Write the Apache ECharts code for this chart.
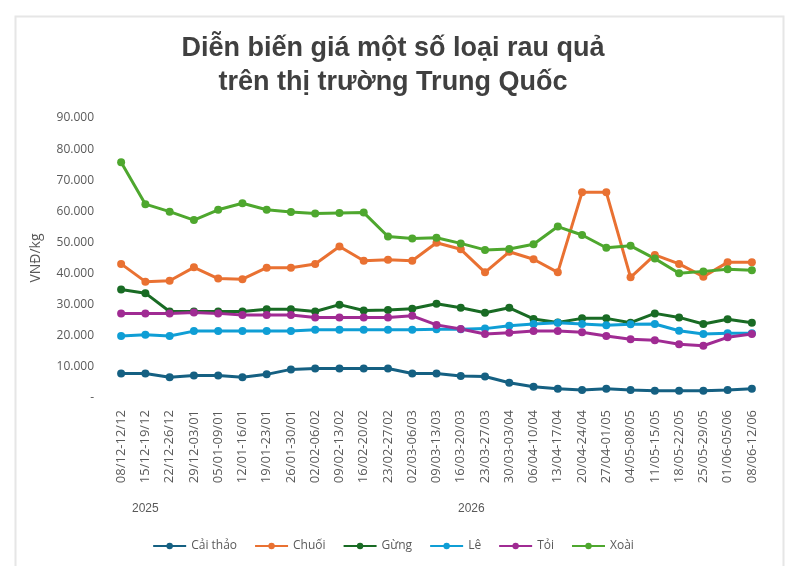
<!DOCTYPE html>
<html>
<head>
<meta charset="utf-8">
<script src="https://cdn.jsdelivr.net/npm/echarts@6/dist/echarts.min.js"></script>
<style>
  html, body { margin: 0; padding: 0; background: #fff; }
  #chart { width: 786px; height: 566px; }
</style>
</head>
<body>
<div id="chart"></div>
<script>
// tuần (categories)
const weeks = [
  '08/12-12/12', '15/12-19/12', '22/12-26/12', '29/12-03/01', '05/01-09/01',
  '12/01-16/01', '19/01-23/01', '26/01-30/01', '02/02-06/02', '09/02-13/02',
  '16/02-20/02', '23/02-27/02', '02/03-06/03', '09/03-13/03', '16/03-20/03',
  '23/03-27/03', '30/03-03/04', '06/04-10/04', '13/04-17/04', '20/04-24/04',
  '27/04-01/05', '04/05-08/05', '11/05-15/05', '18/05-22/05', '25/05-29/05',
  '01/06-05/06', '08/06-12/06'
];

const caiThao = [7900, 7900, 6700, 7200, 7200, 6700, 7600, 9200, 9500, 9500, 9500, 9500, 7900, 7900,
  7100, 6900, 4900, 3600, 3000, 2600, 3000, 2600, 2300, 2300, 2300, 2600, 3000];
const chuoi = [43100, 37400, 37700, 42000, 38400, 38200, 41900, 41900, 43100, 48700, 44100, 44400, 44100, 49900,
  47800, 40400, 47000, 44600, 40400, 66100, 66100, 38800, 46000, 43100, 39000, 43600, 43600];
const gung = [34900, 33700, 27800, 27800, 27800, 27800, 28500, 28500, 27800, 30000, 28100, 28300, 28700, 30300,
  29000, 27400, 29000, 25400, 24300, 25600, 25600, 24200, 27200, 25900, 23800, 25300, 24200];
const le = [19900, 20300, 19900, 21500, 21500, 21500, 21500, 21500, 21900, 21900, 21900, 21900, 21900, 22100,
  22100, 22300, 23200, 23800, 24200, 23800, 23400, 23700, 23800, 21600, 20600, 20800, 20800];
const toi = [27200, 27200, 27200, 27500, 27200, 26700, 26700, 26700, 25900, 25900, 25900, 25900, 26400, 23500,
  22200, 20600, 21000, 21500, 21500, 21100, 19900, 18900, 18600, 17300, 16800, 19500, 20600];
const xoai = [75800, 62300, 59900, 57200, 60500, 62600, 60500, 59800, 59300, 59500, 59600, 51900, 51300, 51500,
  49700, 47600, 47900, 49400, 55100, 52400, 48300, 48900, 44800, 40100, 40700, 41400, 41100];

const seriesNames = ['Cải thảo', 'Chuối', 'Gừng', 'Lê', 'Tỏi', 'Xoài'];
const seriesData = [caiThao, chuoi, gung, le, toi, xoai];
const colors = ['#156082', '#E97132', '#196B24', '#0F9ED5', '#A02B93', '#4EA72E'];

const fmt = function (v) {
  if (v === 0) return '-';
  return String(v).replace(/\B(?=(\d{3})+(?!\d))/g, '.');
};

const chart = echarts.init(document.getElementById('chart'));
const option = {
  animation: false,
  color: colors,
  textStyle: { fontFamily: 'Open Sans, Noto Sans, sans-serif' },
  title: {
    text: 'Diễn biến giá một số loại rau quả\ntrên thị trường Trung Quốc',
    left: 'center',
    top: 27,
    textStyle: {
      fontFamily: 'Liberation Sans, Arial, sans-serif',
      fontSize: 27,
      fontWeight: 'bold',
      color: '#404040',
      lineHeight: 34
    }
  },
  legend: {
    data: seriesNames,
    bottom: 9,
    left: 'center',
    itemWidth: 33,
    itemHeight: 8,
    itemGap: 17,
    textStyle: { color: '#595959', fontSize: 12 }
  },
  grid: { left: 109, right: 22, top: 118, height: 280 },
  xAxis: {
    type: 'category',
    data: weeks,
    boundaryGap: true,
    axisLine: { show: false },
    axisTick: { show: false },
    axisLabel: { rotate: 90, color: '#595959', fontSize: 13, margin: 12, interval: 0 }
  },
  yAxis: {
    type: 'value',
    min: 0,
    max: 90000,
    interval: 10000,
    name: 'VNĐ/kg',
    nameLocation: 'middle',
    nameGap: 66,
    nameTextStyle: { color: '#595959', fontSize: 14 },
    splitLine: { show: false },
    axisLine: { show: false },
    axisTick: { show: false },
    axisLabel: { color: '#595959', fontSize: 12, margin: 15, formatter: fmt }
  },
  graphic: [
    {
      type: 'rect',
      left: 13, top: 14,
      shape: { width: 768, height: 570 },
      style: { fill: 'none', stroke: '#e6e6e6', lineWidth: 2 },
      silent: true
    },
    { type: 'text', left: 132, top: 503, style: { text: '2025', fill: '#595959', fontSize: 12 } },
    { type: 'text', left: 458, top: 503, style: { text: '2026', fill: '#595959', fontSize: 12 } }
  ],
  series: seriesNames.map(function (name, i) {
    return {
      name: name,
      type: 'line',
      data: seriesData[i],
      symbol: 'circle',
      symbolSize: 8,
      lineStyle: { width: 3 },
      itemStyle: { color: colors[i] }
    };
  })
};
chart.setOption(option);
</script>
</body>
</html>
